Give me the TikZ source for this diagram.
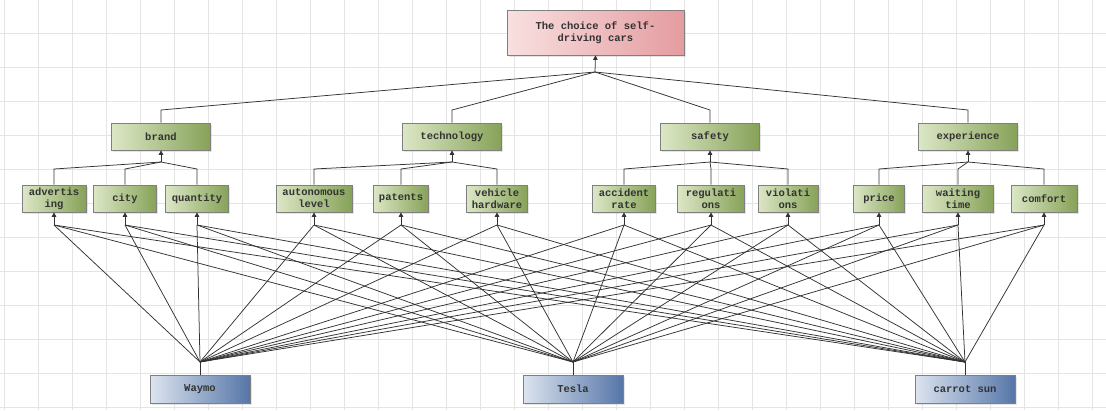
\documentclass[tikz,border=0pt]{standalone}
\usepackage{fontspec}
\setmonofont{Liberation Mono}
\usetikzlibrary{arrows.meta,shadows}
\definecolor{pinkA}{HTML}{F9E0E0}
\definecolor{pinkB}{HTML}{E49CA0}
\definecolor{grnA}{HTML}{DCE7C6}
\definecolor{grnB}{HTML}{86A258}
\definecolor{bluA}{HTML}{DCE4EF}
\definecolor{bluB}{HTML}{5676A8}
\definecolor{edgec}{HTML}{333333}
\definecolor{gridc}{HTML}{E4E4E4}
\begin{document}
\begin{tikzpicture}[x=1pt,y=-1pt,
  box/.style={draw=black!50, line width=0.7pt,
    font=\ttfamily\bfseries\fontsize{10.5}{12}\selectfont, text=black!80,
    align=center, inner sep=1pt,
    drop shadow={shadow xshift=1.5pt, shadow yshift=-1.5pt, opacity=0.2}},
  goal/.style={box, minimum width=177pt, minimum height=45pt,
    left color=pinkA, right color=pinkB},
  crit/.style={box, minimum width=99pt, minimum height=27pt,
    left color=grnA, right color=grnB},
  sub/.style={box, minimum height=27pt, left color=grnA, right color=grnB},
  alt/.style={box, minimum width=100pt, minimum height=28pt,
    left color=bluA, right color=bluB},
  ln/.style={draw=edgec, line width=0.75pt},
  arr/.style={ln, -{Triangle[length=4.5pt,width=4.5pt]}},
  gridline/.style={draw=gridc, line width=0.5pt}
]
\useasboundingbox (0,0) rectangle (1106,410);
\fill[white] (0,0) rectangle (1106,410);
\foreach \gx in {4,38,...,1106} \draw[gridline] (\gx,0) -- (\gx,410);
\foreach \gy in {33,67,...,410} \draw[gridline] (0,\gy) -- (1106,\gy);

% goal
\node[goal] (goal) at (595.5,32.5) {The choice of self-\\driving cars};

% criteria
\node[crit] (c1) at (161,136.5) {brand};
\node[crit] (c2) at (452,136.5) {technology};
\node[crit] (c3) at (710,136.5) {safety};
\node[crit] (c4) at (968,136.5) {experience};

% sub-criteria
\node[sub, minimum width=64pt] (s1) at (54,198.5) {advertis\\ing};
\node[sub, minimum width=63pt] (s2) at (125,198.5) {city};
\node[sub, minimum width=63pt] (s3) at (197,198.5) {quantity};
\node[sub, minimum width=76pt] (s4) at (314,198.5) {autonomous\\level};
\node[sub, minimum width=55pt] (s5) at (401,198.5) {patents};
\node[sub, minimum width=61pt] (s6) at (497,198.5) {vehicle\\hardware};
\node[sub, minimum width=63pt] (s7) at (624,198.5) {accident\\rate};
\node[sub, minimum width=67pt] (s8) at (711,198.5) {regulati\\ons};
\node[sub, minimum width=60pt] (s9) at (788,198.5) {violati\\ons};
\node[sub, minimum width=51pt] (s10) at (879,198.5) {price};
\node[sub, minimum width=71pt] (s11) at (958,198.5) {waiting\\time};
\node[sub, minimum width=66pt] (s12) at (1044,198.5) {comfort};

% alternatives
\node[alt] (a1) at (200,389) {Waymo};
\node[alt] (a2) at (573,389) {Tesla};
\node[alt] (a3) at (965,389) {carrot sun};

% goal to criteria
\coordinate (J0) at (595,72);
\draw[arr] (J0) -- (goal.south);
\foreach \i in {1,...,4} {
  \coordinate (k\i) at (c\i.north |- 0,110);
  \draw[ln] (J0) -- (k\i) -- (c\i.north);
}

% criteria to sub-criteria
\foreach \i/\list in {1/{1,2,3}, 2/{4,5,6}, 3/{7,8,9}, 4/{10,11,12}} {
  \coordinate (cj\i) at (c\i.south |- 0,162);
  \draw[arr] (cj\i) -- (c\i.south);
  \foreach \j in \list {
    \coordinate (sk\j) at (s\j.north |- 0,169);
    \draw[ln] (cj\i) -- (sk\j) -- (s\j.north);
  }
}

% sub-criteria junctions
\foreach \j in {1,...,12} {
  \coordinate (sj\j) at (s\j.south |- 0,225);
  \draw[arr] (sj\j) -- (s\j.south);
}

% alternatives to sub-criteria
\foreach \k in {1,2,3} {
  \coordinate (aj\k) at (a\k.north |- 0,362);
  \draw[ln] (aj\k) -- (a\k.north);
  \foreach \j in {1,...,12} {
    \draw[ln] (aj\k) -- (sj\j);
  }
}
\end{tikzpicture}
\end{document}
